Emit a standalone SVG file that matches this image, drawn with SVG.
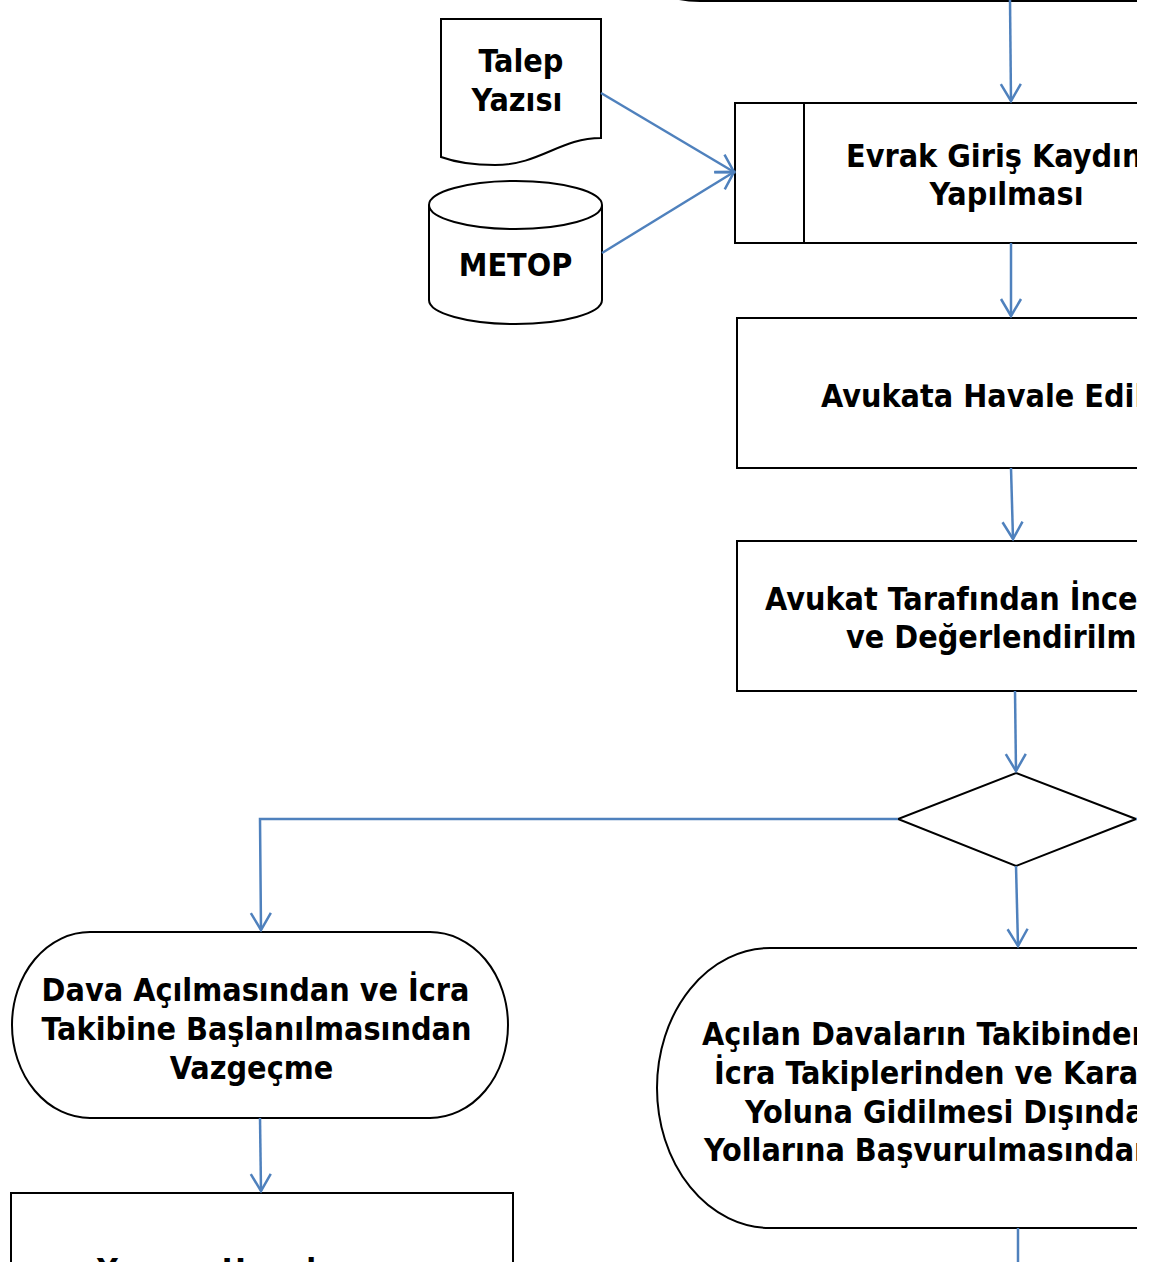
<svg xmlns="http://www.w3.org/2000/svg" width="1155" height="1262" viewBox="0 0 1155 1262">
<style>
.sh{fill:#fff;stroke:#000;stroke-width:2}
.t{font-family:"DejaVu Sans Condensed","DejaVu Sans",sans-serif;font-stretch:condensed;font-weight:bold;font-size:32px;fill:#000}
.m{text-anchor:middle}
.c{fill:none;stroke:#4F81BD;stroke-width:2.5}
</style>
<defs>
<marker id="ah" markerUnits="userSpaceOnUse" viewBox="-20 -12 24 24" markerWidth="24" markerHeight="24" refX="0" refY="0" orient="auto">
<path d="M-17,-10 L0,0 L-17,10" fill="none" stroke="#4F81BD" stroke-width="2.5"/>
</marker>
<clipPath id="clip"><rect x="0" y="0" width="1137" height="1262"/></clipPath>
</defs>
<rect width="1155" height="1262" fill="#fff"/>
<g clip-path="url(#clip)">
<g id="top-terminator">
<path class="sh" d="M646,-30 Q654,1 700,1 H1145 V-30"/>
</g>
<g id="talep-yazisi">
<path class="sh" d="M441,19 H601 V138 C560,138 540,165 495,165 C470,165 452,161 441,157 Z"/>
<text class="t m" x="521" y="72">Talep</text>
<text class="t m" x="517" y="111">Yazısı</text>
</g>
<g id="metop">
<path class="sh" d="M429,205 A86.5,24 0 0 1 602,205 V300 A86.5,24 0 0 1 429,300 Z"/>
<path class="sh" d="M429,205 A86.5,24 0 0 0 602,205" fill="none"/>
<text class="t m" x="515.5" y="276">METOP</text>
</g>
<g id="evrak-giris">
<rect class="sh" x="735" y="103" width="420" height="140"/>
<line class="sh" x1="804" y1="103" x2="804" y2="243"/>
<text class="t" x="846" y="167">Evrak Giriş Kaydın</text>
<text class="t m" x="1006.5" y="205">Yapılması</text>
</g>
<g id="avukata-havale">
<rect class="sh" x="737" y="318" width="420" height="150"/>
<text class="t" x="821" y="407">Avukata Havale Edil</text>
</g>
<g id="avukat-inceleme">
<rect class="sh" x="737" y="541" width="420" height="150"/>
<text class="t" x="765" y="610">Avukat Tarafından İnce</text>
<text class="t" x="846" y="648">ve Değerlendirilme</text>
</g>
<g id="karar">
<path class="sh" d="M1016,773 L1136,819 L1016,866 L898,819 Z"/>
</g>
<g id="vazgecme">
<path class="sh" d="M90,932 H430 A78,93 0 0 1 430,1118 H90 A78,93 0 0 1 90,932 Z"/>
<text class="t m" x="255.5" y="1001">Dava Açılmasından ve İcra</text>
<text class="t m" x="256.5" y="1040">Takibine Başlanılmasından</text>
<text class="t m" x="251.5" y="1079">Vazgeçme</text>
</g>
<g id="takipten-vazgecme">
<path class="sh" d="M1150,948 H770 A113,140 0 0 0 770,1228 H1150"/>
<text class="t" x="702" y="1045">Açılan Davaların Takibinden</text>
<text class="t" x="714" y="1084">İcra Takiplerinden ve Kara</text>
<text class="t" x="745" y="1123">Yoluna Gidilmesi Dışında</text>
<text class="t" x="704" y="1161">Yollarına Başvurulmasından</text>
</g>
<g id="yazi-hazirlanmasi">
<rect class="sh" x="11" y="1193" width="502" height="150"/>
<text class="t" x="97" y="1281">Yazının Hazırlanması</text>
</g>
<g id="connectors">
<line class="c" x1="1010" y1="0" x2="1011" y2="101" marker-end="url(#ah)"/>
<line class="c" x1="601" y1="93" x2="734" y2="172" marker-end="url(#ah)"/>
<line class="c" x1="602" y1="253" x2="734" y2="172" marker-end="url(#ah)"/>
<line class="c" x1="1011" y1="243" x2="1011" y2="316" marker-end="url(#ah)"/>
<line class="c" x1="1011" y1="468" x2="1013" y2="539" marker-end="url(#ah)"/>
<line class="c" x1="1015" y1="691" x2="1016" y2="771" marker-end="url(#ah)"/>
<polyline class="c" points="898,819 260,819 261,930" marker-end="url(#ah)"/>
<line class="c" x1="1016" y1="866" x2="1018" y2="946" marker-end="url(#ah)"/>
<line class="c" x1="260" y1="1118" x2="261" y2="1191" marker-end="url(#ah)"/>
<line class="c" x1="1018" y1="1228" x2="1018" y2="1270"/>
<line class="c" x1="1136" y1="819" x2="1150" y2="819"/>
</g>
</g>
</svg>
